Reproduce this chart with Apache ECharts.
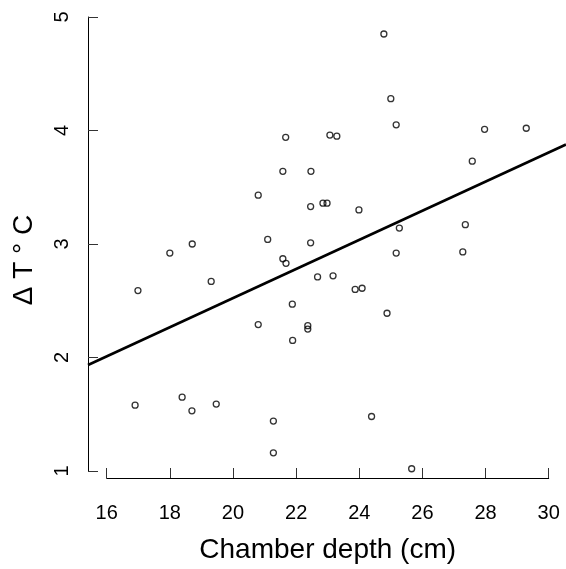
<!DOCTYPE html>
<html>
<head>
<meta charset="utf-8">
<script src="https://cdn.jsdelivr.net/npm/echarts@6/dist/echarts.min.js"></script>
<style>
html,body{margin:0;padding:0;background:#fff;}
#chart{width:566px;height:569px;}
</style>
</head>
<body>
<div id="chart"></div>
<script>
// Chamber depth (cm)
var depth = [21.67, 23.07, 23.29, 21.58, 22.47, 20.80, 22.46, 22.85, 22.98, 21.10,
             22.46, 18.71, 18.00, 21.58, 21.68, 24.78, 25.00, 25.17, 27.97, 29.29,
             27.58, 23.99, 25.27, 27.36, 25.17, 27.28, 16.99, 19.31, 22.68, 23.17,
             21.88, 23.87, 24.09, 20.80, 22.37, 22.37, 21.89, 24.88, 16.90, 18.39,
             18.70, 19.47, 21.28, 21.28, 24.39, 25.66];
// Delta T (°C)
var deltaT = [3.94, 3.96, 3.95, 3.64, 3.64, 3.43, 3.33, 3.36, 3.36, 3.04,
              3.01, 3.00, 2.92, 2.87, 2.83, 4.85, 4.28, 4.05, 4.01, 4.02,
              3.73, 3.30, 3.14, 3.17, 2.92, 2.93, 2.59, 2.67, 2.71, 2.72,
              2.47, 2.60, 2.61, 2.29, 2.28, 2.25, 2.15, 2.39, 1.58, 1.65,
              1.53, 1.59, 1.44, 1.16, 1.48, 1.02];
// fitted regression line: deltaT = intercept + slope * depth
var regression = {intercept: -0.043, slope: 0.1283};
var xTicks = [16, 18, 20, 22, 24, 26, 28, 30];
var yTicks = [1, 2, 3, 4, 5];
var xTitle = 'Chamber depth (cm)';
var yTitle = 'Δ T ° C';

var xMin = 15.408, xMax = 30.549, yMin = 0.859, yMax = 5;
var points = depth.map(function (d, i) { return [d, deltaT[i]]; });
var fitLine = [xMin, xMax].map(function (x) { return [x, regression.intercept + regression.slope * x]; });

var FONT = 'Liberation Sans, Arial, sans-serif';
var chart = echarts.init(document.getElementById('chart'), null, {renderer: 'canvas'});
chart.setOption({
  animation: false,
  backgroundColor: '#fff',
  grid: [
    {left: 88, right: 0, top: 17, bottom: 82},
    {left: 106.7, width: 442, top: 17, bottom: 82},
    {left: 88, width: 100, top: 17, bottom: 98}
  ],
  xAxis: [
    {gridIndex: 0, type: 'value', min: xMin, max: xMax, show: false},
    {gridIndex: 1, type: 'value', min: xTicks[0], max: xTicks[xTicks.length - 1], interval: 2,
     axisLine: {show: true, lineStyle: {color: '#000', width: 1}},
     axisTick: {show: true, inside: true, length: 10, lineStyle: {color: '#333', width: 1}},
     axisLabel: {color: '#000', fontSize: 20, fontFamily: FONT, margin: 25},
     splitLine: {show: false},
     name: xTitle, nameLocation: 'middle', nameGap: 58,
     nameTextStyle: {color: '#000', fontSize: 28, fontFamily: FONT}},
    {gridIndex: 2, type: 'value', min: 0, max: 1, show: false}
  ],
  yAxis: [
    {gridIndex: 0, type: 'value', min: yMin, max: yMax, show: false},
    {gridIndex: 1, type: 'value', min: 0, max: 1, show: false},
    {gridIndex: 2, type: 'value', min: yTicks[0], max: yTicks[yTicks.length - 1], interval: 1,
     axisLine: {show: true, lineStyle: {color: '#000', width: 1}},
     axisTick: {show: true, inside: true, length: 10, lineStyle: {color: '#333', width: 1}},
     axisLabel: {color: '#000', fontSize: 20, fontFamily: FONT, margin: 16, rotate: 90},
     splitLine: {show: false}}
  ],
  graphic: [
    {type: 'text', x: 24.5, y: 260, rotation: Math.PI / 2,
     style: {text: yTitle, fontSize: 28, fontFamily: FONT, fill: '#000', align: 'center', verticalAlign: 'middle'}}
  ],
  series: [
    {type: 'scatter', xAxisIndex: 0, yAxisIndex: 0, data: points,
     symbol: 'circle', symbolSize: 6,
     itemStyle: {color: 'rgba(255,255,255,0)', borderColor: '#000', borderWidth: 1.3}},
    {type: 'line', xAxisIndex: 0, yAxisIndex: 0, data: fitLine, showSymbol: false,
     lineStyle: {color: '#000', width: 2.6}, z: 1}
  ]
});
</script>
</body>
</html>
